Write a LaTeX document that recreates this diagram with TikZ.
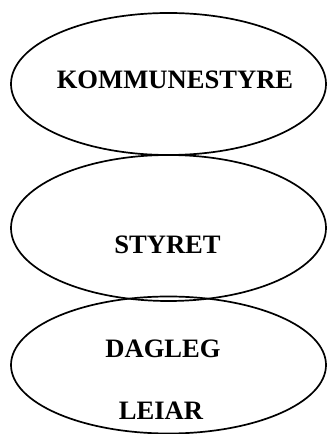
\documentclass[tikz,border=0pt]{standalone}
\usepackage{fontspec}
\setmainfont{Liberation Serif}
\begin{document}
\begin{tikzpicture}[x=1pt,y=1pt]

    % Fix the page to the size of the reference
    \useasboundingbox (0,0) rectangle (327,434);

    % Define the half axes of the ellipses
    \def\RX{157.5}

    % Define the centres of the three ellipses
    \coordinate (K) at (168.5,350);
    \coordinate (S) at (168.5,206);
    \coordinate (D) at (168.5,69);

    % Draw the ellipses
    \draw[line width=1.7pt] (K) ellipse ({\RX} and 71);
    \draw[line width=1.7pt] (S) ellipse ({\RX} and 73);
    \draw[line width=1.7pt] (D) ellipse ({\RX} and 68.5);

    % Add the labels exactly as shown in the image
    \node[font=\fontsize{26.6}{30}\selectfont\bfseries] (kommune) at (175,354) {KOMMUNESTYRE};
    \node[font=\fontsize{26.6}{30}\selectfont\bfseries] (styret) at (167.5,189) {STYRET};
    \node[font=\fontsize{26.6}{30}\selectfont\bfseries] (dagleg) at (163,85) {DAGLEG};
    \node[font=\fontsize{26.6}{30}\selectfont\bfseries] (leiar) at (161,23) {LEIAR};

\end{tikzpicture}
\end{document}
